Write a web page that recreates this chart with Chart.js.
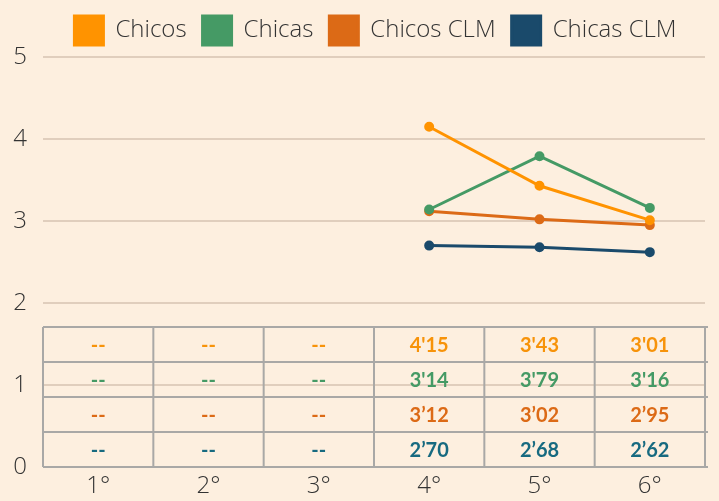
<!DOCTYPE html>
<html lang="es">
  <head>
    <meta charset="UTF-8" />
    <title>Chicos / Chicas</title>
    <style>
      html, body { margin: 0; padding: 0; background: #fdefdf; }
      #wrap { width: 719px; height: 501px; }
    </style>
  </head>
  <body>
    <div id="wrap"><canvas id="myChart" width="719" height="501"></canvas></div>

    <script src="https://cdn.jsdelivr.net/npm/chart.js"></script>
    <script>
      const cursos = ["1°", "2°", "3°", "4°", "5°", "6°"];
      const chicos = [null, null, null, 4.15, 3.43, 3.01];
      const chicas = [null, null, null, 3.14, 3.79, 3.16];
      const chicosClm = [null, null, null, 3.12, 3.02, 2.95];
      const chicasClm = [null, null, null, 2.70, 2.68, 2.62];
      // texts shown in the table under the lines
      const tablaChicos = ["--", "--", "--", "4'15", "3'43", "3'01"];
      const tablaChicas = ["--", "--", "--", "3'14", "3'79", "3'16"];
      const tablaChicosClm = ["--", "--", "--", "3’12", "3’02", "2’95"];
      const tablaChicasClm = ["--", "--", "--", "2’70", "2’68", "2’62"];

      const colores = ["#ff9300", "#459a65", "#dc6a16", "#1a4a6b"];
      const coloresTabla = ["#f7930a", "#459a65", "#dc6a16", "#176a80"];

      function serie(label, data, color) {
        return {
          label: label,
          data: data,
          borderColor: color,
          backgroundColor: color,
          borderWidth: 3,
          pointRadius: 3.5,
          pointHoverRadius: 3.5,
          tension: 0,
          spanGaps: false,
        };
      }

      // table drawn inside the plot area, aligned on the x scale
      const tablaPlugin = {
        id: "tabla",
        afterDraw(chart) {
          const ctx = chart.ctx;
          const x = chart.scales.x;
          const area = chart.chartArea;
          const filas = [tablaChicos, tablaChicas, tablaChicosClm, tablaChicasClm];
          const alto = 35;
          const bottom = area.bottom;
          const top = bottom - alto * filas.length;
          const left = area.left;
          const right = area.right;
          const ancho = (right - left) / cursos.length;

          ctx.save();
          ctx.strokeStyle = "#a9a8a6";
          ctx.lineWidth = 2;
          ctx.beginPath();
          for (let r = 0; r <= filas.length; r++) {
            const y = top + r * alto;
            ctx.moveTo(left, y);
            ctx.lineTo(right + 3, y);
          }
          for (let c = 0; c <= cursos.length; c++) {
            const xx = left + c * ancho;
            ctx.moveTo(xx, top);
            ctx.lineTo(xx, bottom);
          }
          ctx.stroke();

          ctx.font = "bold 20px Lato";
          ctx.textAlign = "center";
          ctx.textBaseline = "middle";
          filas.forEach((fila, r) => {
            ctx.fillStyle = coloresTabla[r];
            fila.forEach((txt, c) => {
              ctx.fillText(txt, x.getPixelForValue(c), top + r * alto + alto / 2 + 1);
            });
          });
          ctx.restore();
        },
      };

      // legend nudged like the original
      const legendaPlugin = {
        id: "legenda",
        afterLayout(chart) {
          chart.legend.left += 23;
          chart.legend.right += 23;
          chart.legend.top -= 2;
          chart.legend.bottom -= 2;
        },
      };

      const fuente = { family: "Open Sans", size: 24, weight: 300 };

      const ctx = document.getElementById("myChart").getContext("2d");
      const chart = new Chart(ctx, {
        type: "line",
        data: {
          labels: cursos,
          datasets: [
            serie("Chicos", chicos, colores[0]),
            serie("Chicas", chicas, colores[1]),
            serie("Chicos CLM", chicosClm, colores[2]),
            serie("Chicas CLM", chicasClm, colores[3]),
          ],
        },
        options: {
          responsive: false,
          animation: false,
          layout: { padding: { top: 2, right: 14, bottom: 0, left: 0 } },
          plugins: {
            tooltip: { enabled: false },
            legend: {
              position: "top",
              labels: {
                boxWidth: 29,
                boxHeight: 29,
                padding: 16,
                color: "#333333",
                font: fuente,
              },
            },
          },
          scales: {
            x: {
              offset: true,
              afterFit(scale) {
                scale.height = 34;
              },
              grid: { display: false, drawTicks: false },
              border: { display: false },
              ticks: { color: "#333333", padding: 5, font: fuente },
            },
            y: {
              min: 0,
              max: 5,
              afterFit(scale) {
                scale.width = 43;
              },
              grid: { color: "#e0cebd", lineWidth: 2, drawTicks: false },
              border: { display: false },
              ticks: { stepSize: 1, color: "#333333", padding: 16, font: fuente },
            },
          },
        },
        plugins: [tablaPlugin, legendaPlugin],
      });
    </script>
  </body>
</html>
